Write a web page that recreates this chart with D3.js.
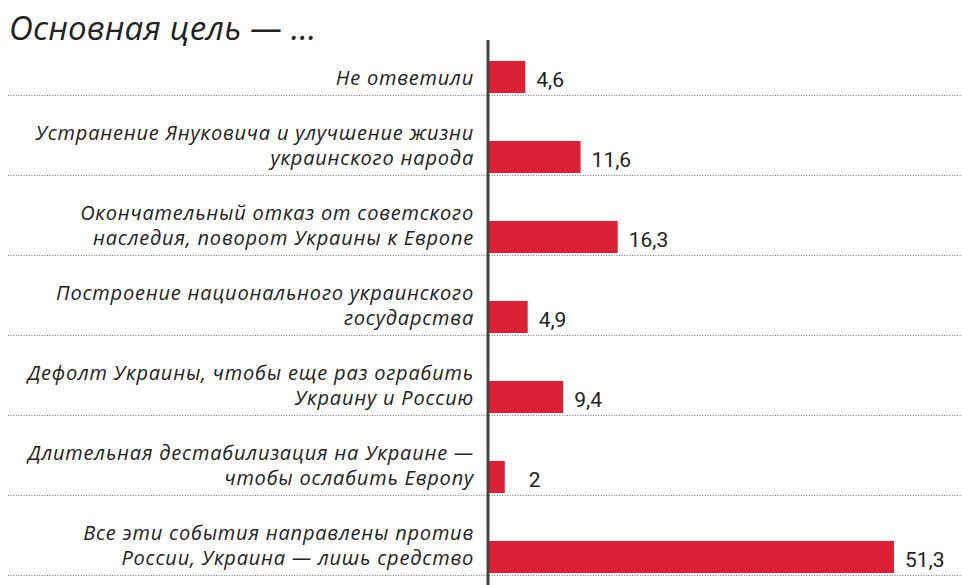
<!DOCTYPE html>
<html>
<head>
<meta charset="utf-8">
<script src="https://cdn.jsdelivr.net/npm/d3@7"></script>
<style>
  body { margin: 0; background: #fff; }
  svg { display: block; }
</style>
</head>
<body>
<script>
var categories = [
  ['Не ответили'],
  ['Устранение Януковича и улучшение жизни', 'украинского народа'],
  ['Окончательный отказ от советского', 'наследия, поворот Украины к Европе'],
  ['Построение национального украинского', 'государства'],
  ['Дефолт Украины, чтобы еще раз ограбить', 'Украину и Россию'],
  ['Длительная дестабилизация на Украине —', 'чтобы ослабить Европу'],
  ['Все эти события направлены против', 'России, Украина — лишь средство']
];
var values = [4.6, 11.6, 16.3, 4.9, 9.4, 2, 51.3];
var valueLabels = ['4,6', '11,6', '16,3', '4,9', '9,4', '2', '51,3'];
var title = 'Основная цель — ...';

var width = 962;
var height = 585;

var svg = d3.select('body').append('svg')
  .attr('width', width)
  .attr('height', height);

// rows: each band ends on a dotted line
var y = d3.scaleBand()
  .domain(d3.range(values.length))
  .range([15, 575])
  .paddingInner(0)
  .paddingOuter(0);

var x = d3.scaleLinear()
  .domain([0, 51.3])
  .range([489, 894]);

var labelFont = '"Open Sans", "Lato", sans-serif';

svg.append('text')
  .attr('x', 9)
  .attr('y', 40)
  .attr('font-family', labelFont)
  .attr('font-style', 'italic')
  .attr('font-size', 33)
  .attr('letter-spacing', 0.2)
  .attr('fill', '#222')
  .text(title);

var rows = svg.selectAll('g.row')
  .data(values)
  .enter()
  .append('g')
  .attr('class', 'row')
  .attr('transform', function(d, i) { return 'translate(0,' + (y(i) + y.bandwidth()) + ')'; });

// dotted separators
rows.append('line')
  .attr('x1', 8)
  .attr('x2', width)
  .attr('y1', 0.5)
  .attr('y2', 0.5)
  .attr('stroke', '#777')
  .attr('stroke-width', 1)
  .attr('stroke-dasharray', '1,1.6');

// bars
rows.append('rect')
  .attr('x', x(0))
  .attr('y', -34)
  .attr('width', function(d) { return x(d) - x(0); })
  .attr('height', 32)
  .attr('fill', '#dc2035');

// value labels
rows.append('text')
  .attr('x', function(d, i) { return x(d) + (values[i] < 3 ? 24 : 11); })
  .attr('y', -8)
  .attr('font-family', '"Liberation Sans Narrow", "Roboto", sans-serif')
  .attr('font-size', 21)
  .attr('fill', '#222')
  .text(function(d, i) { return valueLabels[i]; });

// category labels, right aligned, one text per line
rows.each(function(d, i) {
  var lines = categories[i];
  d3.select(this).selectAll('text.cat')
    .data(lines)
    .enter()
    .append('text')
    .attr('class', 'cat')
    .attr('x', 474)
    .attr('y', function(line, j) { return -10 - (lines.length - 1 - j) * 25; })
    .attr('text-anchor', 'end')
    .attr('font-family', labelFont)
    .attr('font-style', 'italic')
    .attr('font-size', 20)
    .attr('letter-spacing', 0.8)
    .attr('fill', '#222')
    .text(function(line) { return line; });
});

// vertical axis line
svg.append('line')
  .attr('x1', 488)
  .attr('x2', 488)
  .attr('y1', 40)
  .attr('y2', height)
  .attr('stroke', '#444')
  .attr('stroke-width', 3);
</script>
</body>
</html>
